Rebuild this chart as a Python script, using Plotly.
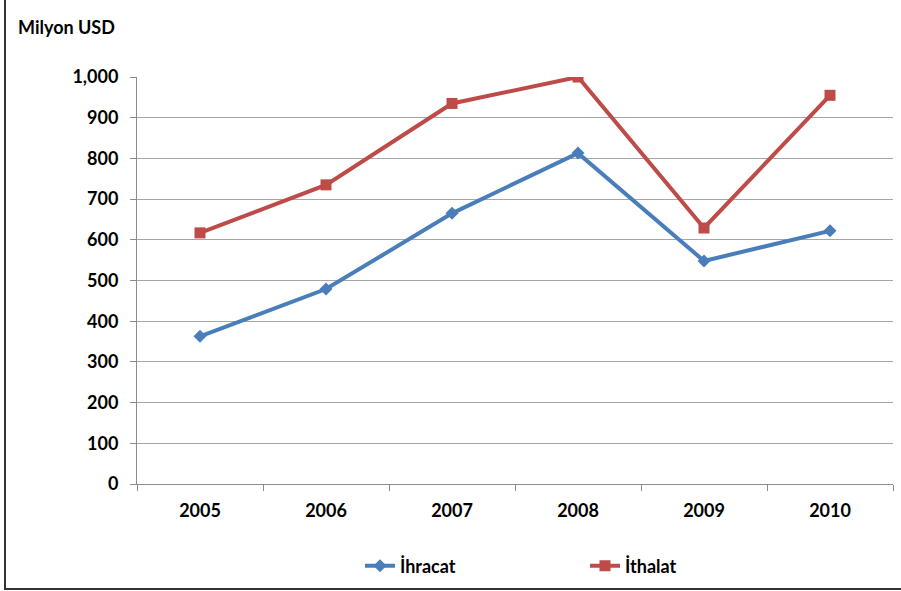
import plotly.graph_objects as go

years = ["2005", "2006", "2007", "2008", "2009", "2010"]
ihracat = [363, 479, 665, 813, 548, 622]
ithalat = [617, 735, 935, 1000, 629, 955]
y_ticks = [0, 100, 200, 300, 400, 500, 600, 700, 800, 900, 1000]
y_labels = ["0", "100", "200", "300", "400", "500", "600", "700", "800", "900", "1,000"]

W, H = 901, 591
L, R, T, B = 137, 8, 77, 107
pw, ph = W - L - R, H - T - B

def px(x):
    return (x - L) / pw

def py(y):
    return (H - B - y) / ph

FONT = "Lato"
FS = 18
fig = go.Figure()
fig.add_trace(go.Scatter(x=years, y=ihracat, name="İhracat", mode="lines+markers",
                         line=dict(color="#4A7EBB", width=4),
                         marker=dict(symbol="diamond", size=10, color="#4A7EBB")))
fig.add_trace(go.Scatter(x=years, y=ithalat, name="İthalat", mode="lines+markers",
                         line=dict(color="#BE4B48", width=4),
                         marker=dict(symbol="square", size=11, color="#BE4B48")))

fig.update_layout(
    width=W, height=H,
    margin=dict(l=L, r=R, t=T, b=B, autoexpand=False),
    paper_bgcolor="white", plot_bgcolor="white",
    font=dict(family=FONT, size=FS, color="black"),
    showlegend=True,
    legend=dict(orientation="h", x=px(360), xanchor="left", y=py(566), yanchor="middle",
                entrywidth=180, entrywidthmode="pixels",
                font=dict(family=FONT, size=FS, color="black", weight="bold"),
                itemwidth=30),
    xaxis=dict(type="category", tickson="boundaries", showgrid=False,
               showline=True, linecolor="#8C8C8C", linewidth=1,
               ticks="outside", ticklen=6, tickcolor="#8C8C8C",
               tickfont=dict(family=FONT, size=FS, weight="bold"),
               ticklabelstandoff=10,
               range=[-0.5, 5.5]),
    yaxis=dict(range=[0, 1000], tickvals=y_ticks, ticktext=y_labels,
               showgrid=True, gridcolor="#A6A6A6", gridwidth=1,
               showline=True, linecolor="#8C8C8C", linewidth=1,
               ticks="outside", ticklen=6, tickcolor="#8C8C8C",
               tickfont=dict(family=FONT, size=FS, weight="bold"),
               ticklabelstandoff=8,
               zeroline=False),
    annotations=[dict(text="<b>Milyon USD</b>", xref="paper", yref="paper",
                      x=px(16), y=py(27), xanchor="left", yanchor="middle",
                      showarrow=False, font=dict(family=FONT, size=FS, color="black"))],
    shapes=[
        dict(type="line", xref="paper", yref="paper", x0=px(5), x1=px(5), y0=py(0), y1=py(590),
             line=dict(color="#333333", width=2)),
        dict(type="line", xref="paper", yref="paper", x0=px(5), x1=px(901), y0=py(589), y1=py(589),
             line=dict(color="#333333", width=2)),
    ],
)

fig.write_html("out.html", config={"displayModeBar": False},
               post_script="document.body.style.margin='0';document.body.style.overflow='hidden';")
